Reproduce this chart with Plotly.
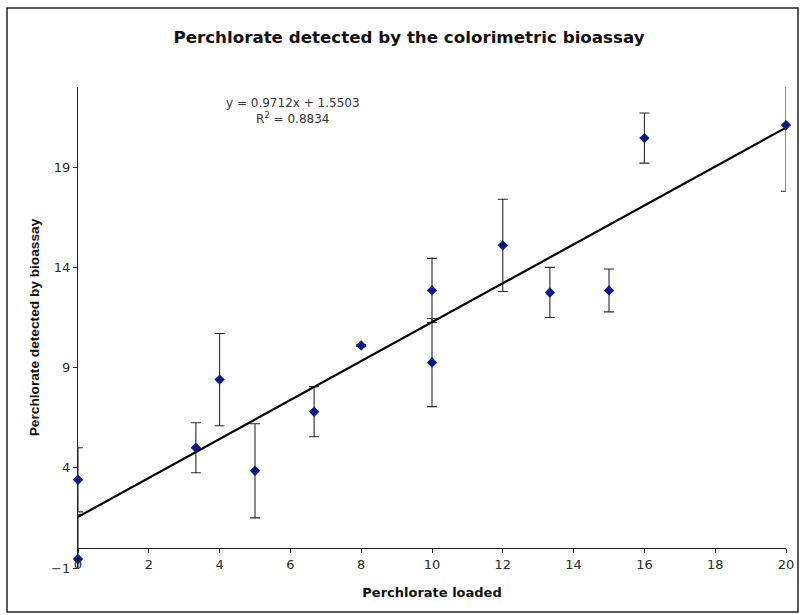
import plotly.graph_objects as go

# Data
x_loaded = [0, 0, 3.33, 4, 5, 6.67, 8, 10, 10, 12, 13.33, 15, 16, 20]
y_detected = [3.4, -0.55, 5.0, 8.4, 3.85, 6.8, 10.1, 12.85, 9.25, 15.1, 12.75, 12.85, 20.45, 21.1]
y_error = [1.6, 2.2, 1.25, 2.3, 2.35, 1.25, 0.05, 1.6, 2.2, 2.3, 1.25, 1.07, 1.25, 3.3]

trend_x = [0, 20]
trend_y = [1.5503, 20.9743]

x_ticks = [0, 2, 4, 6, 8, 10, 12, 14, 16, 18, 20]
y_ticks = [-1, 4, 9, 14, 19]

title_text = "Perchlorate detected by the colorimetric bioassay"
x_title = "Perchlorate loaded"
y_title = "Perchlorate detected by bioassay"
eq_text = "y = 0.9712x + 1.5503<br>R<sup>2</sup> = 0.8834"

W, H = 800, 615
L, R, T, B = 78, 14, 87, 47
plot_w = W - L - R
plot_h = H - T - B

def px_to_paper_x(px):
    return (px - L) / plot_w

def px_to_paper_y(py):
    return (H - B - py) / plot_h

fig = go.Figure()

# error bars (clipped to plot area)
fig.add_trace(go.Scatter(
    x=x_loaded, y=y_detected, mode="markers",
    marker=dict(size=1, color="rgba(0,0,0,0)"),
    error_y=dict(type="data", array=y_error, visible=True,
                 color="#2a2a2a", thickness=1.1, width=5),
    cliponaxis=True, showlegend=False, hoverinfo="skip",
))

# trendline
fig.add_trace(go.Scatter(
    x=trend_x, y=trend_y, mode="lines",
    line=dict(color="black", width=2.2),
    showlegend=False,
))

# markers
fig.add_trace(go.Scatter(
    x=x_loaded, y=y_detected, mode="markers",
    marker=dict(symbol="diamond", size=8, color="#0a1a8a",
                line=dict(width=0)),
    cliponaxis=False, showlegend=False,
))

WIDE = "DejaVu Sans, Verdana, sans-serif"
tick_font = dict(family=WIDE, size=13, color="#2a2a2a")

fig.update_layout(
    width=W, height=H,
    margin=dict(l=L, r=R, t=T, b=B, autoexpand=False),
    paper_bgcolor="white", plot_bgcolor="white",
    title=dict(text="<b>" + title_text + "</b>", x=409 / W,
               xanchor="center", y=1 - 37 / H, yanchor="middle",
               font=dict(family=WIDE, size=16.7, color="#111111")),
    xaxis=dict(
        range=[0, 20], tickvals=x_ticks, showgrid=False, zeroline=False,
        showline=True, linecolor="#222222", linewidth=1.3,
        ticks="outside", ticklen=4, tickcolor="#222222", tickwidth=1,
        tickfont=tick_font,
        anchor="free", position=1 / 24,
        title=dict(text="<b>" + x_title + "</b>",
                   font=dict(family=WIDE, size=13, color="#111111"), standoff=17),
    ),
    yaxis=dict(
        range=[-1, 23], tickvals=y_ticks, showgrid=False, zeroline=False,
        showline=True, linecolor="#222222", linewidth=1.3,
        ticks="outside", ticklen=4, tickcolor="#222222", tickwidth=1,
        tickfont=tick_font,
        title=dict(text="<b>" + y_title + "</b>",
                   font=dict(family="Liberation Sans, Arial, sans-serif", size=13.7, color="#111111"),
                   standoff=8),
    ),
    annotations=[dict(
        text=eq_text, xref="paper", yref="paper",
        x=px_to_paper_x(293), y=px_to_paper_y(111),
        xanchor="center", yanchor="middle", showarrow=False, align="center",
        font=dict(family=WIDE, size=12, color="#333333"),
    )],
    shapes=[dict(
        type="rect", xref="paper", yref="paper",
        x0=px_to_paper_x(7), x1=px_to_paper_x(798),
        y0=px_to_paper_y(612), y1=px_to_paper_y(8),
        line=dict(color="#222222", width=1.5), fillcolor="rgba(0,0,0,0)",
        layer="below",
    )],
)

fig.write_html("out.html", config={"displayModeBar": False},
               post_script="document.body.style.margin='0px';")
